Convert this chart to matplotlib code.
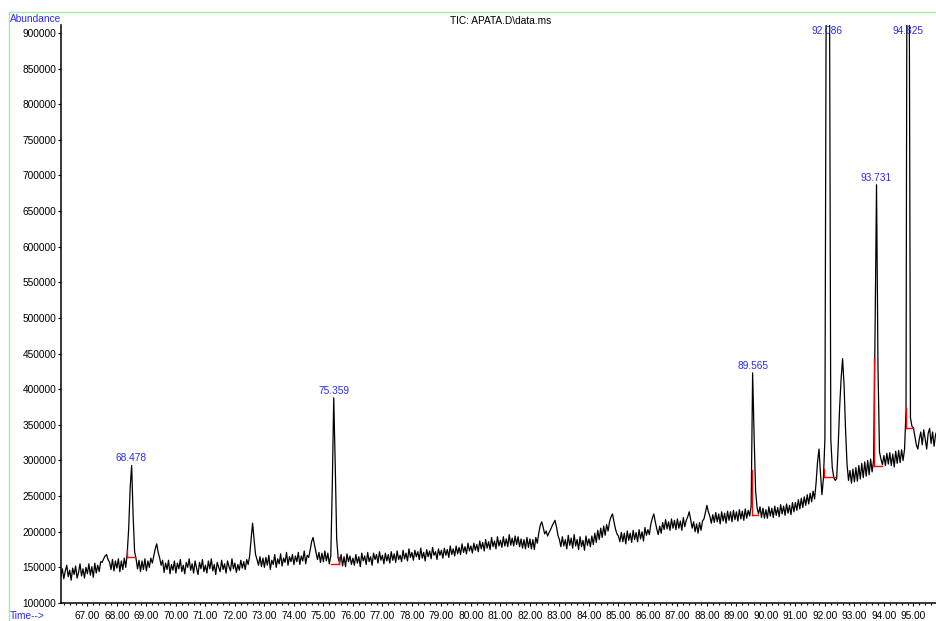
import numpy as np
import matplotlib
matplotlib.use("Agg")
import matplotlib.pyplot as plt
from matplotlib.lines import Line2D
from matplotlib.ticker import MultipleLocator, FormatStrFormatter

plt.rcParams['font.family'] = ['Liberation Sans', 'DejaVu Sans']

# TIC trace, abundance in thousands, sampled every 0.05 min from 66.10
abund_k = [
    # 66.10 - 66.95
    138, 148, 134, 145, 153, 137, 146, 132, 149, 140, 152, 135, 143, 155, 138, 148, 135, 150,
    # 67
    141, 155, 139, 151, 136, 156, 142, 153, 144, 158, 157, 162, 166, 168, 161, 157, 147, 161, 145, 159,
    # 68
    149, 162, 144, 159, 147, 163, 150, 170, 205, 262, 293, 222, 172, 162, 148, 160, 144, 159, 147, 162,
    # 69
    145, 159, 150, 163, 156, 166, 176, 183, 171, 163, 153, 160, 143, 156, 147, 160, 141, 154, 146, 159,
    # 70
    142, 156, 148, 161, 144, 153, 141, 157, 150, 162, 146, 155, 142, 159, 149, 140, 157, 148, 161, 144,
    # 71
    153, 142, 159, 148, 162, 145, 154, 140, 157, 150, 144, 160, 147, 155, 142, 159, 151, 145, 162, 148,
    # 72
    156, 143, 154, 146, 160, 149, 158, 147, 161, 154, 166, 190, 212, 189, 168, 161, 153, 165, 151, 163,
    # 73
    150, 164, 153, 167, 147, 160, 154, 168, 150, 162, 155, 169, 152, 163, 157, 171, 153, 165, 158, 168,
    # 74
    154, 166, 158, 171, 154, 166, 159, 173, 155, 167, 164, 174, 186, 192, 181, 171, 161, 171, 157, 170,
    # 75
    158, 173, 159, 170, 155, 166, 262, 388, 296, 190, 163, 156, 168, 152, 165, 151, 169, 158, 166, 154,
    # 76
    163, 153, 168, 156, 165, 151, 170, 159, 166, 154, 171, 158, 165, 153, 170, 161, 168, 156, 172, 160,
    # 77
    167, 155, 170, 159, 168, 156, 172, 160, 169, 157, 173, 161, 167, 158, 174, 162, 170, 159, 176, 164,
    # 78
    171, 160, 174, 165, 172, 161, 177, 163, 171, 159, 175, 165, 173, 162, 178, 167, 172, 161, 176, 167,
    # 79
    174, 163, 177, 167, 175, 164, 180, 168, 176, 166, 180, 169, 178, 168, 183, 171, 179, 169, 184, 173,
    # 80
    180, 170, 184, 174, 182, 172, 187, 176, 185, 173, 189, 177, 186, 175, 192, 179, 187, 176, 193, 180,
    # 81
    188, 178, 193, 180, 190, 179, 196, 181, 191, 180, 194, 182, 193, 179, 190, 177, 189, 176, 192, 178,
    # 82
    190, 176, 189, 175, 192, 184, 198, 209, 214, 206, 197, 201, 194, 199, 203, 208, 212, 216, 207, 195,
    # 83
    189, 179, 193, 180, 189, 176, 195, 181, 191, 177, 196, 180, 189, 175, 193, 179, 188, 174, 194, 181,
    # 84
    190, 179, 194, 182, 198, 185, 202, 189, 205, 192, 208, 195, 210, 201, 214, 221, 225, 214, 204, 197,
    # 85
    194, 186, 199, 186, 198, 183, 201, 188, 198, 185, 202, 189, 199, 186, 203, 190, 200, 187, 206, 195,
    # 86
    203, 196, 211, 219, 225, 214, 204, 196, 208, 198, 213, 203, 217, 204, 214, 202, 218, 205, 216, 203,
    # 87
    218, 205, 215, 202, 220, 207, 216, 221, 228, 217, 205, 214, 200, 211, 198, 213, 202, 215, 218, 227,
    # 88
    237, 228, 222, 212, 224, 213, 227, 214, 225, 211, 228, 215, 226, 212, 229, 216, 228, 214, 230, 217,
    # 89
    228, 215, 231, 218, 229, 216, 232, 219, 230, 222, 236, 423, 335, 258, 234, 225, 235, 220, 233, 219,
    # 90
    231, 219, 235, 222, 233, 220, 236, 223, 234, 221, 238, 225, 236, 223, 239, 226, 237, 224, 241, 228,
    # 91
    241, 230, 245, 232, 247, 234, 249, 237, 252, 239, 254, 242, 257, 246, 268, 298, 316, 282, 252, 275,
    # 92
    330, 1050, 1500, 1050, 330, 290, 276, 272, 275, 320, 375, 415, 443, 405, 343, 295, 272, 286, 268, 288,
    # 93
    270, 290, 271, 293, 274, 296, 276, 298, 278, 300, 280, 302, 284, 300, 480, 687, 430, 312, 302, 294,
    # 94
    307, 293, 310, 295, 311, 293, 309, 291, 313, 296, 314, 297, 315, 300, 316, 370, 1400, 1100, 360, 348,
    # 95.00 - 95.80
    346, 334, 322, 316, 330, 340, 322, 343, 330, 316, 338, 345, 324, 340, 320, 336, 342,
]

# integrated peaks
peak_rt = [68.478, 75.359, 89.565, 92.086, 93.731, 94.825]
peak_labels = ['68.478', '75.359', '89.565', '92.086', '93.731', '94.825']

# red integration baselines (start, end, level) and the short drop line (time, top)
base_start = [68.353, 75.247, 89.519, 91.970, 93.665, 94.739]
base_end = [68.614, 75.519, 89.732, 92.342, 93.926, 94.977]
base_level_k = [164.6, 155, 224, 277, 292, 345]
drop_t = [68.353, 75.519, 89.519, 91.970, 93.665, 94.739]
drop_top_k = [174, 164.6, 287, 288, 444, 374]

time_min = np.round(66.10 + 0.05 * np.arange(len(abund_k)), 2)
abund = np.array(abund_k) * 1000

fig = plt.figure(figsize=(9.36, 6.21), dpi=100)
ax = fig.add_axes([61/936, 18/621, 875/936, 578/621])

ax.plot(time_min, abund, color='black', lw=0.9)

for s, e, b in zip(base_start, base_end, base_level_k):
    ax.plot([s, e], [b*1000, b*1000], color='red', lw=1.0)
for t, top, b in zip(drop_t, drop_top_k, base_level_k):
    ax.plot([t, t], [b*1000, top*1000], color='red', lw=1.0)

ymax = 911200
ax.set_xlim(66.105, 95.766)
ax.set_ylim(100000, ymax)

blue = '#2a2aff'
for rt, lab in zip(peak_rt, peak_labels):
    near = np.abs(time_min - rt) <= 0.05
    apex = abund[near].max()
    if apex >= ymax:
        ax.annotate(lab, (rt, ymax), xytext=(0, -1), textcoords='offset points',
                    ha='center', va='top', color=blue, fontsize=7.3)
    else:
        ax.annotate(lab, (rt, apex), xytext=(0, 1.5), textcoords='offset points',
                    ha='center', va='bottom', color=blue, fontsize=7.3)

ax.spines['top'].set_visible(False)
ax.spines['right'].set_visible(False)
ax.spines['left'].set_linewidth(1.1)
ax.spines['bottom'].set_linewidth(1.1)

ax.xaxis.set_major_locator(MultipleLocator(1.0))
ax.xaxis.set_minor_locator(MultipleLocator(0.2))
ax.xaxis.set_major_formatter(FormatStrFormatter('%.2f'))
ax.yaxis.set_major_locator(MultipleLocator(50000))
ax.yaxis.set_major_formatter(FormatStrFormatter('%d'))
ax.tick_params(axis='both', which='major', direction='out', length=2.4, width=0.8,
               labelsize=7.3, pad=1.0)
ax.tick_params(axis='x', which='major', pad=3.5)
ax.tick_params(axis='x', which='minor', direction='out', length=1.5, width=0.8)

fig.text(9.5/936, 1 - 22/621, 'Abundance', color=blue, fontsize=7.3, va='baseline', ha='left')
fig.text(10/936, 1 - 616/621, 'Time-->', color=blue, fontsize=7.3, va='center', ha='left')
fig.text(501/936, 1 - 21/621, 'TIC: APATA.D\\data.ms', color='black', fontsize=7.3,
         va='center', ha='center')

green = '#9ef09e'
fig.add_artist(Line2D([9/936, 1], [1 - 12/621, 1 - 12/621], color=green, lw=1.0,
                      transform=fig.transFigure))
fig.add_artist(Line2D([9/936, 9/936], [0, 1 - 12/621], color=green, lw=1.0,
                      transform=fig.transFigure))

fig.savefig('out.png', dpi=100)
